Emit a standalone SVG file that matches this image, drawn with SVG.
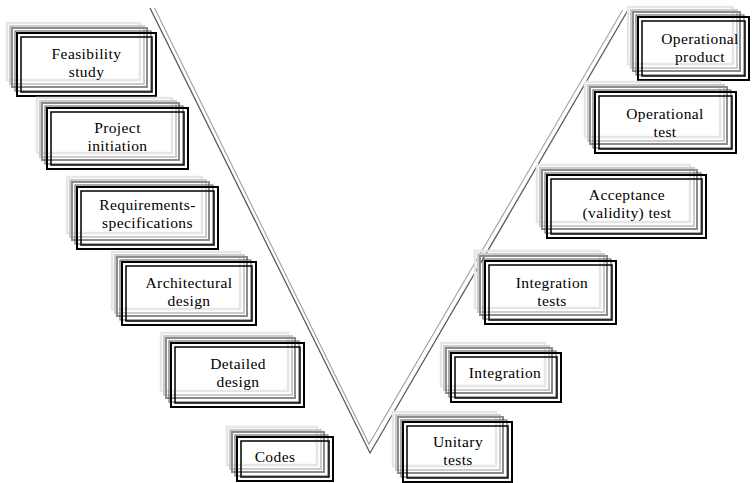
<svg xmlns="http://www.w3.org/2000/svg" width="752" height="483" viewBox="0 0 752 483">
<style>
rect{fill:none}
.s1{stroke:#e6e6e6;stroke-width:2.5}
.s2{stroke:#cccccc;stroke-width:2}
.s3{stroke:#8c8c8c;stroke-width:2}
.s4{stroke:#555;stroke-width:1}
.b1{stroke:#000;stroke-width:2}
.b2{stroke:#000;stroke-width:1.5}
text{font-family:"Liberation Serif","Times New Roman",serif;font-size:15.5px;letter-spacing:0.4px;text-anchor:middle;fill:#000}
.vo{fill:none;stroke:#5a5a5a;stroke-width:1.3}
.vi{fill:none;stroke:#a0a0a0;stroke-width:1.1}
</style>
<rect width="752" height="483" fill="#fff"/>
<g id="connectors">
<path class="vi" d="M154.5,8 L369,444 L622.7,10"/>
<path class="vo" d="M150,8 L370,453 L628,10"/>
</g>
<g id="n1" transform="translate(17,33)">
<rect class="s1" x="-10" y="-10" width="133" height="57"/><rect class="s2" x="-7" y="-7" width="134" height="58"/><rect class="s3" x="-5" y="-5" width="135" height="59"/><rect class="s4" x="-2" y="-2" width="136" height="60"/>
<rect class="b1" x="0" y="0" width="139" height="63"/><rect class="b2" x="4" y="4" width="131" height="55"/>
<text x="69.5" y="26">Feasibility</text><text x="69.5" y="44">study</text>
</g>
<g id="n2" transform="translate(47,108)">
<rect class="s1" x="-10" y="-10" width="135" height="55"/><rect class="s2" x="-7" y="-7" width="136" height="56"/><rect class="s3" x="-5" y="-5" width="137" height="57"/><rect class="s4" x="-2" y="-2" width="138" height="58"/>
<rect class="b1" x="0" y="0" width="141" height="61"/><rect class="b2" x="4" y="4" width="133" height="53"/>
<text x="70.5" y="25">Project</text><text x="70.5" y="43">initiation</text>
</g>
<g id="n3" transform="translate(77,187)">
<rect class="s1" x="-10" y="-10" width="135" height="56"/><rect class="s2" x="-7" y="-7" width="136" height="57"/><rect class="s3" x="-5" y="-5" width="137" height="58"/><rect class="s4" x="-2" y="-2" width="138" height="59"/>
<rect class="b1" x="0" y="0" width="141" height="62"/><rect class="b2" x="4" y="4" width="133" height="54"/>
<text x="70.5" y="23">Requirements-</text><text x="70.5" y="41">specifications</text>
</g>
<g id="n4" transform="translate(122,262)">
<rect class="s1" x="-10" y="-10" width="128" height="57"/><rect class="s2" x="-7" y="-7" width="129" height="58"/><rect class="s3" x="-5" y="-5" width="130" height="59"/><rect class="s4" x="-2" y="-2" width="131" height="60"/>
<rect class="b1" x="0" y="0" width="134" height="63"/><rect class="b2" x="4" y="4" width="126" height="55"/>
<text x="67" y="26">Architectural</text><text x="67" y="44">design</text>
</g>
<g id="n5" transform="translate(171,343)">
<rect class="s1" x="-10" y="-10" width="127" height="58"/><rect class="s2" x="-7" y="-7" width="128" height="59"/><rect class="s3" x="-5" y="-5" width="129" height="60"/><rect class="s4" x="-2" y="-2" width="130" height="61"/>
<rect class="b1" x="0" y="0" width="133" height="64"/><rect class="b2" x="4" y="4" width="125" height="56"/>
<text x="67" y="26">Detailed</text><text x="67" y="44">design</text>
</g>
<g id="n6" transform="translate(237,437)">
<rect class="s1" x="-10" y="-10" width="90" height="38"/><rect class="s2" x="-7" y="-7" width="91" height="39"/><rect class="s3" x="-5" y="-5" width="92" height="40"/><rect class="s4" x="-2" y="-2" width="93" height="41"/>
<rect class="b1" x="0" y="0" width="96" height="44"/><rect class="b2" x="4" y="4" width="88" height="36"/>
<text x="38" y="25">Codes</text>
</g>
<g id="n7" transform="translate(638,17)">
<rect class="s1" x="-10" y="-10" width="105" height="57"/><rect class="s2" x="-7" y="-7" width="106" height="58"/><rect class="s3" x="-5" y="-5" width="107" height="59"/><rect class="s4" x="-2" y="-2" width="108" height="60"/>
<rect class="b1" x="0" y="0" width="111" height="63"/><rect class="b2" x="4" y="4" width="103" height="55"/>
<text x="62" y="27">Operational</text><text x="62" y="45">product</text>
</g>
<g id="n8" transform="translate(595,92)">
<rect class="s1" x="-10" y="-10" width="135" height="55"/><rect class="s2" x="-7" y="-7" width="136" height="56"/><rect class="s3" x="-5" y="-5" width="137" height="57"/><rect class="s4" x="-2" y="-2" width="138" height="58"/>
<rect class="b1" x="0" y="0" width="141" height="61"/><rect class="b2" x="4" y="4" width="133" height="53"/>
<text x="70" y="27">Operational</text><text x="70" y="45">test</text>
</g>
<g id="n9" transform="translate(547,175)">
<rect class="s1" x="-10" y="-10" width="153" height="57"/><rect class="s2" x="-7" y="-7" width="154" height="58"/><rect class="s3" x="-5" y="-5" width="155" height="59"/><rect class="s4" x="-2" y="-2" width="156" height="60"/>
<rect class="b1" x="0" y="0" width="159" height="63"/><rect class="b2" x="4" y="4" width="151" height="55"/>
<text x="80" y="25">Acceptance</text><text x="80" y="43">(validity) test</text>
</g>
<g id="n10" transform="translate(485,261)">
<rect class="s1" x="-10" y="-10" width="125" height="57"/><rect class="s2" x="-7" y="-7" width="126" height="58"/><rect class="s3" x="-5" y="-5" width="127" height="59"/><rect class="s4" x="-2" y="-2" width="128" height="60"/>
<rect class="b1" x="0" y="0" width="131" height="63"/><rect class="b2" x="4" y="4" width="123" height="55"/>
<text x="67" y="27">Integration</text><text x="67" y="45">tests</text>
</g>
<g id="n11" transform="translate(451,353)">
<rect class="s1" x="-10" y="-10" width="104" height="43"/><rect class="s2" x="-7" y="-7" width="105" height="44"/><rect class="s3" x="-5" y="-5" width="106" height="45"/><rect class="s4" x="-2" y="-2" width="107" height="46"/>
<rect class="b1" x="0" y="0" width="110" height="49"/><rect class="b2" x="4" y="4" width="102" height="41"/>
<text x="54" y="25">Integration</text>
</g>
<g id="n12" transform="translate(403,422)">
<rect class="s1" x="-10" y="-10" width="103" height="54"/><rect class="s2" x="-7" y="-7" width="104" height="55"/><rect class="s3" x="-5" y="-5" width="105" height="56"/><rect class="s4" x="-2" y="-2" width="106" height="57"/>
<rect class="b1" x="0" y="0" width="109" height="60"/><rect class="b2" x="4" y="4" width="101" height="52"/>
<text x="55" y="25">Unitary</text><text x="55" y="43">tests</text>
</g>
</svg>
